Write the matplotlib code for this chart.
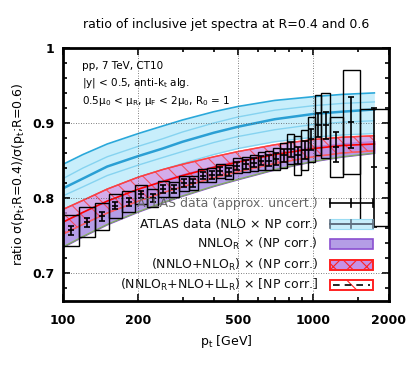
import numpy as np
import matplotlib
matplotlib.use("Agg")
import matplotlib.pyplot as plt
from matplotlib.patches import Rectangle
from matplotlib.ticker import FixedLocator, NullFormatter, MultipleLocator

plt.rcParams['font.family'] = ['DejaVu Sans']
plt.rcParams['mathtext.fontset'] = 'dejavusans'
plt.rcParams['hatch.linewidth'] = 0.8

# ATLAS data, bin edges and ratio values
edges = [100, 116, 134, 152, 172, 194, 216, 240, 264, 290, 318, 346, 376, 408, 442,
         478, 516, 556, 598, 642, 688, 736, 786, 838, 894, 952, 1012, 1076, 1162,
         1310, 1530, 1992]
ratio = [0.757, 0.768, 0.776, 0.790, 0.795, 0.805, 0.800, 0.812, 0.812, 0.820, 0.820,
         0.830, 0.831, 0.836, 0.835, 0.843, 0.845, 0.847, 0.850, 0.850, 0.852, 0.857,
         0.865, 0.857, 0.864, 0.878, 0.897, 0.897, 0.868, 0.901, 0.841]
stat = [0.006, 0.006, 0.006, 0.005, 0.005, 0.005, 0.005, 0.005, 0.005, 0.005, 0.005,
        0.005, 0.005, 0.005, 0.005, 0.005, 0.006, 0.006, 0.006, 0.007, 0.008, 0.009,
        0.010, 0.011, 0.012, 0.014, 0.016, 0.018, 0.020, 0.034, 0.079]
syst = [0.021, 0.020, 0.018, 0.016, 0.014, 0.013, 0.012, 0.011, 0.010, 0.010, 0.009,
        0.009, 0.009, 0.009, 0.009, 0.010, 0.010, 0.011, 0.012, 0.013, 0.015, 0.017,
        0.020, 0.026, 0.026, 0.030, 0.040, 0.043, 0.040, 0.069, 0.078]

# theory curves
pt_th = [100, 120, 150, 200, 250, 300, 400, 500, 700, 1000, 1300, 1750]
blue_hi = [0.845, 0.858, 0.872, 0.886, 0.896, 0.904, 0.915, 0.922, 0.930, 0.935, 0.938, 0.940]
blue_a = [0.826, 0.840, 0.855, 0.869, 0.879, 0.888, 0.900, 0.908, 0.917, 0.923, 0.926, 0.928]
blue_c = [0.813, 0.826, 0.842, 0.856, 0.866, 0.875, 0.887, 0.895, 0.905, 0.912, 0.915, 0.918]
blue_b = [0.803, 0.815, 0.830, 0.844, 0.854, 0.862, 0.874, 0.882, 0.891, 0.898, 0.901, 0.903]
blue_lo = [0.785, 0.797, 0.812, 0.828, 0.838, 0.846, 0.858, 0.866, 0.875, 0.881, 0.884, 0.886]
nlo_hi = [0.770, 0.782, 0.797, 0.813, 0.824, 0.832, 0.843, 0.851, 0.861, 0.869, 0.873, 0.876]
nlo_lo = [0.735, 0.749, 0.765, 0.782, 0.794, 0.803, 0.816, 0.825, 0.838, 0.849, 0.855, 0.860]
nnlo_hi = [0.785, 0.797, 0.812, 0.828, 0.838, 0.845, 0.855, 0.862, 0.871, 0.878, 0.881, 0.883]
nnlo_lo = [0.752, 0.765, 0.780, 0.796, 0.807, 0.815, 0.827, 0.835, 0.846, 0.855, 0.860, 0.863]
nnll_c = [0.768, 0.781, 0.796, 0.812, 0.822, 0.830, 0.841, 0.848, 0.858, 0.866, 0.870, 0.872]

legend_labels = [
    'ATLAS data (approx. uncert.)',
    'ATLAS data (NLO × NP corr.)',
    r'NNLO$_\mathrm{R}$ × (NP corr.)',
    r'(NNLO+NLO$_\mathrm{R}$) × (NP corr.)',
    r'(NNLO$_\mathrm{R}$+NLO+LL$_\mathrm{R}$) × [NP corr.]',
]

fig = plt.figure(figsize=(4.15, 3.68), dpi=100)
ax = fig.add_axes([0.152, 0.182, 0.785, 0.688])

# blue band
ax.fill_between(pt_th, blue_lo, blue_hi, color='#c8eefb', lw=0, zorder=1)
ax.plot(pt_th, blue_hi, color='#2aa8da', lw=1.2, zorder=2)
for yy in (blue_a, blue_b, blue_lo):
    ax.plot(pt_th, yy, color='#86d3f0', lw=1.0, zorder=2)
ax.plot(pt_th, blue_c, color='#2a9fd4', lw=1.8, zorder=2)

# NLO band
ax.fill_between(pt_th, nlo_lo, nlo_hi, facecolor='#b49de6', edgecolor='#8a4fd0', lw=0.8, zorder=3)
ax.plot(pt_th, nlo_lo, color='#7fae5a', lw=0.9, zorder=3)

# NNLO_R band, hatched
ax.fill_between(pt_th, nnlo_lo, nnlo_hi, facecolor='#c690e4', edgecolor='#ff3030',
                hatch='\\\\', lw=1.0, alpha=0.75, zorder=4)
ax.plot(pt_th, nnlo_hi, color='#ff4040', lw=1.0, zorder=4)
ax.plot(pt_th, nnlo_lo, color='#ff6060', lw=0.8, zorder=4)
ax.plot(pt_th, nnll_c, color='#ff0000', lw=1.2, zorder=4)

# data
e = np.array(edges)
ctr = np.sqrt(e[:-1] * e[1:])
for i in range(len(ratio)):
    ax.add_patch(Rectangle((e[i], ratio[i] - syst[i]), e[i + 1] - e[i], 2 * syst[i],
                           fill=False, ec='black', lw=1.0, zorder=6))
ax.errorbar(ctr, ratio, yerr=stat, fmt='_', color='black', ms=4, mew=1.2,
            elinewidth=1.2, capsize=2, capthick=1.2, zorder=7)

# grid
for gx in (200, 500, 1000):
    ax.axvline(gx, color='#555555', lw=0.6, ls=(0, (1, 2)), zorder=5)
for gy in (0.7, 0.8, 0.9):
    ax.axhline(gy, color='#555555', lw=0.6, ls=(0, (1, 2)), zorder=5)

ax.set_xscale('log')
ax.set_xlim(100, 2000)
ax.set_ylim(0.663, 1.0)
ax.xaxis.set_major_locator(FixedLocator([100, 200, 500, 1000, 2000]))
ax.xaxis.set_minor_locator(FixedLocator([300, 400, 600, 700, 800, 900, 1500]))
ax.xaxis.set_minor_formatter(NullFormatter())
ax.set_xticklabels(['100', '200', '500', '1000', '2000'])
ax.yaxis.set_major_locator(FixedLocator([0.7, 0.8, 0.9, 1.0]))
ax.yaxis.set_minor_locator(MultipleLocator(0.02))
ax.set_yticklabels(['0.7', '0.8', '0.9', '1'])
ax.tick_params(which='both', direction='in', top=True, right=True, width=1.2)
ax.tick_params(which='major', length=5, labelsize=9, pad=6)
ax.tick_params(axis='x', which='major', pad=9)
ax.tick_params(which='minor', length=3)
for lab in ax.get_xticklabels() + ax.get_yticklabels():
    lab.set_fontweight('bold')
for s in ax.spines.values():
    s.set_linewidth(2)
    s.set_zorder(10)

ax.set_xlabel(r'p$_\mathrm{t}$ [GeV]', fontsize=9, labelpad=5)
ax.set_ylabel(r'ratio σ(p$_\mathrm{t}$;R=0.4)/σ(p$_\mathrm{t}$;R=0.6)', fontsize=9)
ax.set_title('ratio of inclusive jet spectra at R=0.4 and 0.6', fontsize=9, pad=14)

# info text
ax.text(0.058, 0.93, 'pp, 7 TeV, CT10', transform=ax.transAxes, fontsize=7.5, va='center', zorder=12)
ax.text(0.058, 0.86, r'|y| < 0.5, anti-k$_\mathrm{t}$ alg.', transform=ax.transAxes,
        fontsize=7.5, va='center', zorder=12)
ax.text(0.058, 0.79, r'0.5μ$_0$ < μ$_\mathrm{R}$, μ$_\mathrm{F}$ < 2μ$_0$, R$_0$ = 1',
        transform=ax.transAxes, fontsize=7.5, va='center', zorder=12)

# legend (drawn by hand)
tx = 0.782
x0, x1 = 0.819, 0.951
rows = [0.387, 0.304, 0.225, 0.142, 0.063]
for k, (r, lab) in enumerate(zip(rows, legend_labels)):
    col = '#666666' if k == 0 else '#111111'
    ax.text(tx, r, lab, transform=ax.transAxes, fontsize=9, ha='right',
            va='center', color=col, zorder=12)

h = 0.042
tr = ax.transAxes
# row 1: error bar symbol
ax.plot([x0, x1], [rows[0], rows[0]], transform=tr, color='black', lw=1.2, zorder=12, clip_on=False)
for xx in (x0, (x0 + x1) / 2, x1):
    ax.plot([xx, xx], [rows[0] - 0.015, rows[0] + 0.015], transform=tr, color='black',
            lw=1.2, zorder=12, clip_on=False)
# row 2: light blue box with line
ax.add_patch(Rectangle((x0, rows[1] - h / 2), x1 - x0, h, transform=tr, fc='#c8eefb',
                       ec='#9bdcf3', lw=0.8, zorder=12))
ax.plot([x0, x1], [rows[1], rows[1]], transform=tr, color='#607080', lw=1.4, zorder=13)
for xx in (x0, (x0 + x1) / 2, x1):
    ax.plot([xx, xx], [rows[1] - 0.015, rows[1] + 0.015], transform=tr, color='#607080',
            lw=1.2, zorder=13)
# row 3: NLO box
ax.add_patch(Rectangle((x0, rows[2] - h / 2), x1 - x0, h, transform=tr, fc='#b49de6',
                       ec='#8a4fd0', lw=1.2, zorder=12))
# row 4: hatched NNLO_R box
ax.add_patch(Rectangle((x0, rows[3] - h / 2), x1 - x0, h, transform=tr, fc='#c690e4',
                       ec='#ff2020', lw=1.4, hatch='xx', zorder=12))
# row 5: dashed line in red frame
ax.add_patch(Rectangle((x0, rows[4] - h / 2), x1 - x0, h, transform=tr, fc='white',
                       ec='#ff2020', lw=1.4, hatch='\\', zorder=12))
ax.plot([x0 + 0.01, x1 - 0.01], [rows[4], rows[4]], transform=tr, color='black', lw=1.2,
        ls=(0, (4, 3)), zorder=13)

fig.savefig('out.png', dpi=100)
